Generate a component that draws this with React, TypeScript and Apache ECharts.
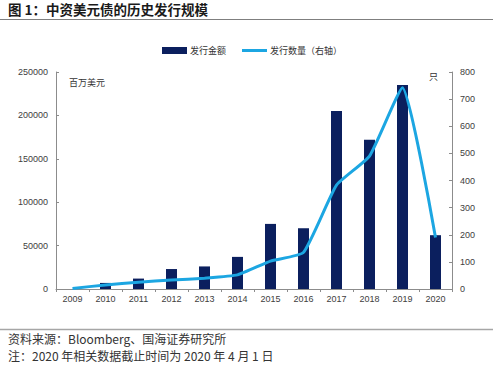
import React, { useEffect, useRef } from 'react';
import * as echarts from 'echarts';

const years = ['2009', '2010', '2011', '2012', '2013', '2014', '2015', '2016', '2017', '2018', '2019', '2020'];
const amount = [0, 7000, 12000, 23000, 26000, 37000, 75000, 70000, 205000, 172000, 235000, 62000];
const count = [2, 15, 25, 33, 40, 52, 103, 135, 383, 490, 742, 190];
const leftTicks = { min: 0, max: 250000, interval: 50000 };
const rightTicks = { min: 0, max: 800, interval: 100 };

const titleText = '图 1：中资美元债的历史发行规模';
const sourceText = '资料来源：Bloomberg、国海证券研究所';
const noteText = '注：2020 年相关数据截止时间为 2020 年 4 月 1 日';
const leftUnit = '百万美元';
const rightUnit = '只';
const barName = '发行金额';
const lineName = '发行数量（右轴）';

const FONT = '"Liberation Sans", "Noto Sans CJK SC", sans-serif';
const CJK = '"Noto Sans CJK SC", "Liberation Sans", sans-serif';

export default function App() {
  const ref = useRef<HTMLDivElement>(null);
  useEffect(() => {
    if (!ref.current) return;
    const chart = echarts.init(ref.current, undefined, { renderer: 'svg' });
    const axisLabel = { color: '#404040', fontSize: 9, fontFamily: FONT, formatter: (v: number) => String(v) };
    chart.setOption({
      animation: false,
      backgroundColor: '#ffffff',
      grid: { left: 56, right: 48, top: 72, bottom: 78 },
      legend: {
        left: 157,
        top: 41,
        itemWidth: 25,
        itemHeight: 7,
        itemGap: 16,
        symbolKeepAspect: true,
        textStyle: { fontSize: 9, color: '#333', fontFamily: CJK, padding: [0, 0, 0, -2] },
        data: [
          { name: barName, icon: 'rect' },
          { name: lineName, icon: 'path://M0,0L25,0L25,3L0,3Z', itemStyle: { color: '#1ca6e2' } },
        ],
      },
      xAxis: {
        type: 'category',
        data: years,
        boundaryGap: true,
        axisLine: { lineStyle: { color: '#8c8c8c', width: 1 } },
        axisTick: { show: true, length: 3, lineStyle: { color: '#8c8c8c' } },
        axisLabel: { color: '#404040', fontSize: 9, fontFamily: FONT, margin: 5 },
      },
      yAxis: [
        {
          type: 'value',
          ...leftTicks,
          position: 'left',
          splitLine: { show: false },
          axisLine: { show: true, lineStyle: { color: '#8c8c8c' } },
          axisTick: { show: true, inside: true, length: 3, lineStyle: { color: '#8c8c8c' } },
          axisLabel: { ...axisLabel, margin: 8 },
        },
        {
          type: 'value',
          ...rightTicks,
          position: 'right',
          splitLine: { show: false },
          axisLine: { show: true, lineStyle: { color: '#8c8c8c' } },
          axisTick: { show: true, inside: true, length: 3, lineStyle: { color: '#8c8c8c' } },
          axisLabel: { ...axisLabel, margin: 8 },
        },
      ],
      series: [
        {
          name: barName,
          type: 'bar',
          data: amount,
          yAxisIndex: 0,
          barWidth: 11,
          itemStyle: { color: '#0b1f5e' },
        },
        {
          name: lineName,
          type: 'line',
          data: count,
          yAxisIndex: 1,
          smooth: 0.15,
          symbol: 'none',
          lineStyle: { color: '#1ca6e2', width: 3 },
          itemStyle: { color: '#1ca6e2' },
        },
      ],
      graphic: [
        {
          type: 'text',
          left: 8,
          top: 2,
          style: { text: titleText, fontSize: 13.5, fontWeight: 'bold', fill: '#1a1a1a', fontFamily: CJK },
        },
        {
          type: 'line',
          shape: { x1: 0, y1: 19.5, x2: 493, y2: 19.5 },
          style: { stroke: '#7f7f7f', lineWidth: 1 },
        },
        {
          type: 'text',
          left: 69,
          top: 78,
          style: { text: leftUnit, fontSize: 9, fill: '#333', fontFamily: CJK },
        },
        {
          type: 'text',
          left: 429,
          top: 72,
          style: { text: rightUnit, fontSize: 9, fill: '#333', fontFamily: CJK },
        },
        {
          type: 'line',
          shape: { x1: 0, y1: 329.5, x2: 493, y2: 329.5 },
          style: { stroke: '#a6a6a6', lineWidth: 1.5 },
        },
        {
          type: 'text',
          left: 8,
          top: 332,
          style: { text: sourceText, fontSize: 12, fill: '#333', fontFamily: CJK },
        },
        {
          type: 'text',
          left: 8,
          top: 349,
          style: { text: noteText, fontSize: 12, fill: '#333', fontFamily: CJK },
        },
      ],
    });
    return () => chart.dispose();
  }, []);
  return (
    <div
      ref={ref}
      style={{ position: 'absolute', left: 0, top: 0, width: 500, height: 367 }}
    />
  );
}
